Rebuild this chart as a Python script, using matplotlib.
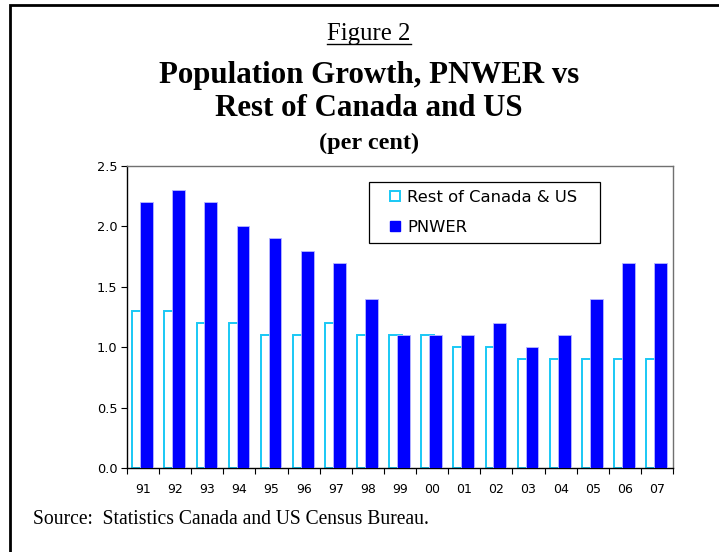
import numpy as np
import matplotlib
matplotlib.use("Agg")
import matplotlib.pyplot as plt
from matplotlib.lines import Line2D

years = ['91', '92', '93', '94', '95', '96', '97', '98', '99',
         '00', '01', '02', '03', '04', '05', '06', '07']
rest = [1.3, 1.3, 1.2, 1.2, 1.1, 1.1, 1.2, 1.1, 1.1,
        1.1, 1.0, 1.0, 0.9, 0.9, 0.9, 0.9, 0.9]
pnwer = [2.2, 2.3, 2.2, 2.0, 1.9, 1.8, 1.7, 1.4, 1.1,
         1.1, 1.1, 1.2, 1.0, 1.1, 1.4, 1.7, 1.7]
yticks = [0.0, 0.5, 1.0, 1.5, 2.0, 2.5]

W, H = 719, 552
fig = plt.figure(figsize=(W / 100, H / 100), dpi=100)
ax = fig.add_axes([127 / W, 1 - 468 / H, 546 / W, 302 / H])

serif = 'Liberation Serif'
sans = 'DejaVu Sans'
cyan = '#19C8F5'
blue = '#0000FF'

x = np.arange(len(years))
ax.bar(x - 0.135, rest, width=0.40, facecolor='white', edgecolor=cyan,
       linewidth=1.4, zorder=2)
ax.bar(x + 0.11, pnwer, width=0.40, facecolor=blue, edgecolor='#B8B8FF',
       linewidth=0.6, zorder=3)

ax.set_xlim(-0.5, len(years) - 0.5)
ax.set_ylim(0, 2.5)
ax.set_yticks(yticks)
ax.set_yticklabels([f'{v:.1f}' for v in yticks], fontsize=9.3, family=sans)
ax.set_xticks(np.arange(len(years) + 1) - 0.5)
ax.set_xticklabels([])
ax.set_xticks(x, minor=True)
ax.set_xticklabels(years, minor=True, fontsize=9.0, family=sans)
ax.tick_params(axis='x', which='major', direction='out', length=4, width=0.8)
ax.tick_params(axis='x', which='minor', length=0, pad=11)
ax.tick_params(axis='y', direction='out', length=4, width=0.8, pad=3)
for s in ['top', 'right']:
    ax.spines[s].set_color('#707070')
    ax.spines[s].set_linewidth(1.0)
for s in ['left', 'bottom']:
    ax.spines[s].set_color('black')
    ax.spines[s].set_linewidth(1.0)

handles = [Line2D([], [], linestyle='none', marker='s', markersize=7,
                  markerfacecolor='white', markeredgecolor=cyan,
                  markeredgewidth=1.4),
           Line2D([], [], linestyle='none', marker='s', markersize=7.5,
                  markerfacecolor=blue, markeredgecolor=blue)]
leg = ax.legend(handles, ['Rest of Canada & US', 'PNWER'],
                loc='upper left', bbox_to_anchor=(0.443, 0.748, 0.423, 0.199),
                mode='expand',
                prop={'family': sans, 'size': 11.8},
                numpoints=1, handlelength=2.15, handletextpad=-0.3,
                labelspacing=0.9, borderpad=0.5, fancybox=False,
                framealpha=1, edgecolor='black', borderaxespad=0)
leg.get_frame().set_linewidth(0.9)

# titles
t = fig.text(369 / W, 1 - 34 / H, 'Figure 2', ha='center', va='center',
             family=serif, fontsize=17.8)
fig.text(369 / W, 1 - 75 / H, 'Population Growth, PNWER vs', ha='center',
         va='center', family=serif, fontsize=22.2, fontweight='bold')
fig.text(369 / W, 1 - 108 / H, 'Rest of Canada and US', ha='center',
         va='center', family=serif, fontsize=22.2, fontweight='bold')
fig.text(369 / W, 1 - 143 / H, '(per cent)', ha='center', va='center',
         family=serif, fontsize=17.5, fontweight='bold')
fig.text(33 / W, 1 - 519 / H, 'Source:  Statistics Canada and US Census Bureau.',
         ha='left', va='center', family=serif, fontsize=14.1)

# underline under "Figure 2"
fig.canvas.draw()
bb = t.get_window_extent().transformed(fig.transFigure.inverted())
fig.add_artist(Line2D([bb.x0, bb.x1], [bb.y0 + 1.5 / H, bb.y0 + 1.5 / H],
                      color='black', linewidth=1.0, transform=fig.transFigure))

# page border (left and top only visible)
fig.add_artist(Line2D([10 / W, 10 / W, 1.0], [0.0, 1 - 5 / H, 1 - 5 / H],
                      color='black', linewidth=2.0, transform=fig.transFigure,
                      solid_joinstyle='miter'))

fig.savefig('out.png', dpi=100)
